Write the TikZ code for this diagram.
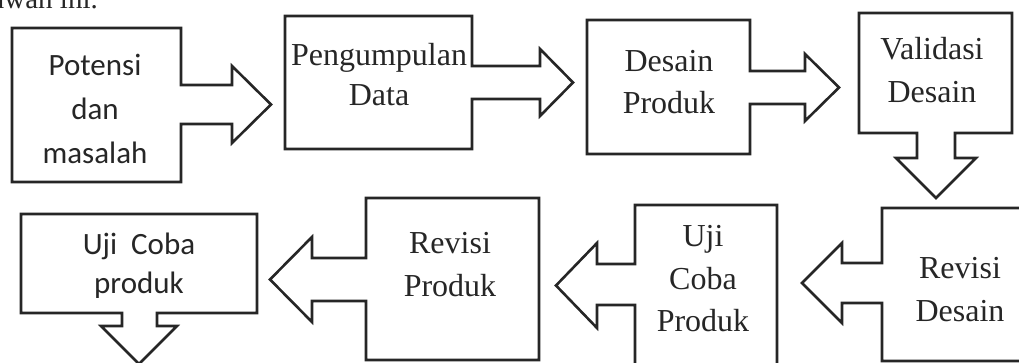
\documentclass[tikz,border=0pt]{standalone}
\usepackage{fontspec}
\setmainfont{Liberation Serif}
\newfontfamily\calibri{Carlito}

\begin{document}
\begin{tikzpicture}[x=1pt,y=-1pt,
    outline/.style={draw=black!85,line width=2.6pt,line join=miter},
    serif/.style={align=center,text=black!85,font=\fontsize{32}{#1}\selectfont},
    sans/.style={align=center,text=black!85,font=\calibri\fontsize{31}{#1}\selectfont}]
  \useasboundingbox (0,0) rectangle (1019,363);
  \clip (0,0) rectangle (1019,363);

  % cut-off line of the text above
  \node (intro) [anchor=base east,inner sep=0pt,text=black!85,font=\fontsize{29}{34}\selectfont] at (98,9) {bawah ini.};

  % top row
  \draw[outline] (12,28) -- (181,28) -- (181,85) -- (232,85) -- (232,66) -- (271,104.5)
    -- (232,143) -- (232,124) -- (181,124) -- (181,182) -- (12,182) -- cycle;
  \draw[outline] (285,16) -- (472,16) -- (472,66) -- (540,66) -- (540,49) -- (573,82.5)
    -- (540,116) -- (540,99) -- (472,99) -- (472,149) -- (285,149) -- cycle;
  \draw[outline] (587,20) -- (750,20) -- (750,71) -- (805,71) -- (805,54) -- (839,87.5)
    -- (805,121) -- (805,104) -- (750,104) -- (750,154) -- (587,154) -- cycle;
  \draw[outline] (859,13) -- (1012,13) -- (1012,133) -- (955,133) -- (955,158) -- (976,158)
    -- (936,198) -- (896,158) -- (917,158) -- (917,133) -- (859,133) -- cycle;

  % bottom row
  \draw[outline] (1030,208) -- (882,208) -- (882,263) -- (842,263) -- (842,243) -- (802,283)
    -- (842,323) -- (842,303) -- (882,303) -- (882,361) -- (1030,361);
  \draw[outline] (777,380) -- (777,205) -- (635,205) -- (635,264) -- (597,264) -- (597,243)
    -- (556,285.5) -- (597,328) -- (597,305) -- (635,305) -- (635,380);
  \draw[outline] (366,198) -- (539,198) -- (539,360) -- (366,360) -- (366,301) -- (312,301)
    -- (312,322) -- (270,279.5) -- (312,237) -- (312,258) -- (366,258) -- cycle;
  \draw[outline] (21,214) -- (257,214) -- (257,313) -- (157,313) -- (157,326) -- (177,326)
    -- (139,364) -- (101,326) -- (122,326) -- (122,313) -- (21,313) -- cycle;

  \node (potensi) [sans=44] at (95,109) {Potensi\\dan\\masalah};
  \node (pengumpulan) [serif=40] at (379,75) {Pengumpulan\\Data};
  \node (desain) [serif=42] at (669,82) {Desain\\Produk};
  \node (validasi) [serif=43] at (932,70) {Validasi\\Desain};
  \node (revisidesain) [serif=43] at (960,290) {Revisi\\Desain};
  \node (ujicoba) [serif=42.5] at (703,279) {Uji\\Coba\\Produk};
  \node (revisiproduk) [serif=43] at (450,265) {Revisi\\Produk};
  \node (ujicobaproduk) [sans=39] at (139,266) {Uji~ Coba\\produk};
\end{tikzpicture}
\end{document}
